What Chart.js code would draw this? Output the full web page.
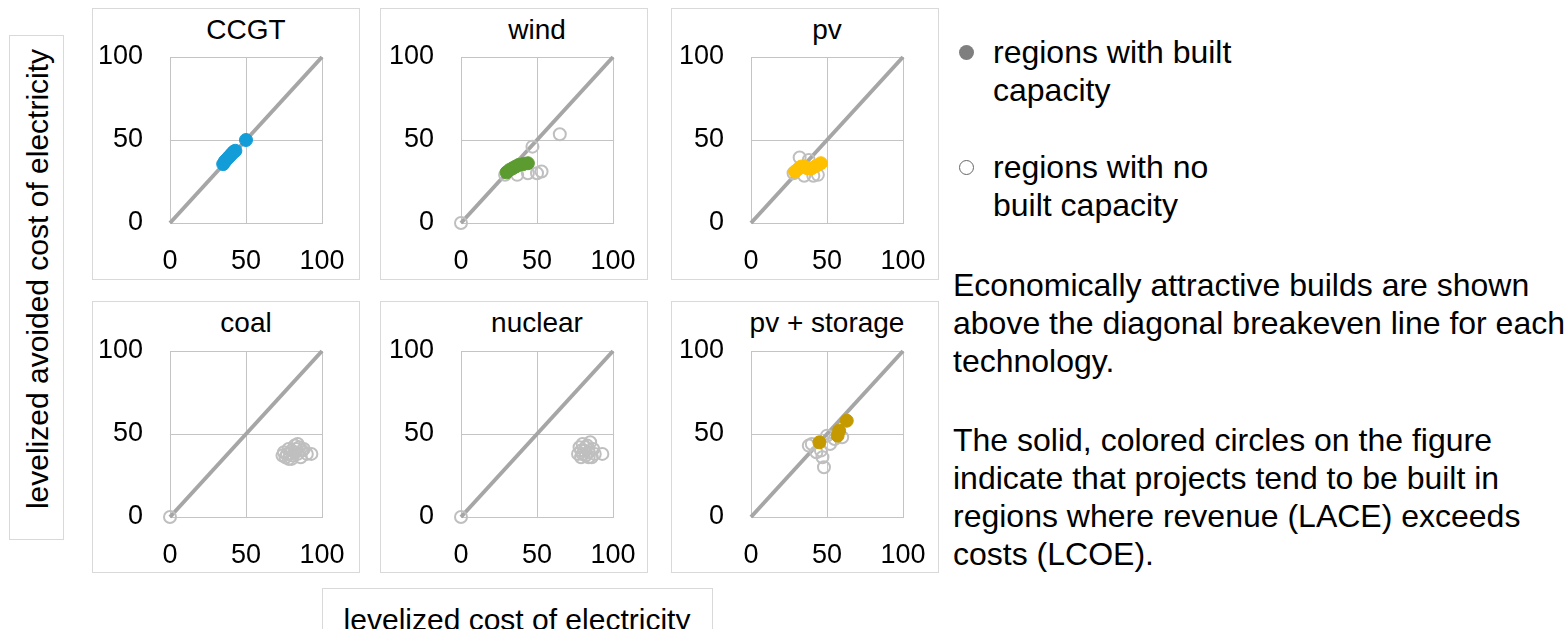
<!DOCTYPE html>
<html>
<head>
<meta charset="utf-8">
<script src="https://cdn.jsdelivr.net/npm/chart.js@4.4.1/dist/chart.umd.min.js"></script>
<style>
  body { margin: 0; width: 1564px; height: 629px; overflow: hidden; background: #fff; position: relative;
         font-family: "Liberation Sans", Arial, sans-serif; color: #000; }
  .box { position: absolute; border: 1px solid #d9d9d9; box-sizing: border-box; }
  canvas { position: absolute; }
  .txt { position: absolute; font-size: 32px; line-height: 38px; white-space: nowrap; }
  .axt { position: absolute; font-size: 30px; line-height: 34px; white-space: nowrap; }
  .tit { position: absolute; font-size: 28px; line-height: 32px; white-space: nowrap; transform: translateX(-50%); }
  .dot { position: absolute; width: 15px; height: 15px; border-radius: 50%; box-sizing: border-box; }
</style>
</head>
<body>

<div class="box" style="left:9px; top:35px; width:55px; height:505px;"></div>
<div class="axt" style="left:38px; top:279px; transform: translate(-50%, -50%) rotate(-90deg);">levelized avoided cost of electricity</div>

<div class="box" style="left:322px; top:588px; width:391px; height:60px;"></div>
<div class="axt" style="left:517px; top:603px; transform: translateX(-50%);">levelized cost of electricity</div>

<div class="dot" style="left:959px; top:45px; background:#7f7f7f;"></div>
<div class="txt" style="left:993px; top:33px;">regions with built<br>capacity</div>
<div class="dot" style="left:959px; top:160px; border:1.5px solid #666;"></div>
<div class="txt" style="left:993px; top:148px;">regions with no<br>built capacity</div>

<div class="txt" style="left:953px; top:266px;">Economically attractive builds are shown<br>above the diagonal breakeven line for each<br>technology.</div>
<div class="txt" style="left:953px; top:421px;">The solid, colored circles on the figure<br>indicate that projects tend to be built in<br>regions where revenue (LACE) exceeds<br>costs (LCOE).</div>

<script>
// valores: x = LCOE, y = LACE
const tickValues = [0, 50, 100];
const techTitles = ["CCGT", "wind", "pv", "coal", "nuclear", "pv + storage"];
const builtColors = ["#139dd8", "#5b9b30", "#ffc000", "#bf9000", "#bf9000", "#c49a00"];

const ccgtBuiltX = [35, 36, 37, 38, 39, 40, 41, 42, 43, 50];
const ccgtBuiltY = [35.5, 37, 38, 39, 40, 41, 42, 43, 43.5, 50];
const ccgtNoneX = [];
const ccgtNoneY = [];

const windBuiltX = [30, 32, 34, 36, 38, 41, 44];
const windBuiltY = [30.5, 32, 33, 34, 35, 35.5, 36];
const windNoneX = [0, 29, 37, 44, 50, 53, 47, 65];
const windNoneY = [0, 29, 29, 30, 30, 31, 46, 53.5];

const pvBuiltX = [29, 31, 33, 35, 37, 40, 43, 46];
const pvBuiltY = [31, 32.5, 34, 34, 33, 33, 34.5, 36];
const pvNoneX = [28, 32, 35, 38, 41, 44];
const pvNoneY = [30, 39.5, 28.5, 38, 28.5, 29];

const coalBuiltX = [];
const coalBuiltY = [];
const coalNoneX = [0, 74, 75, 76, 77, 78, 78, 79, 80, 80, 81, 82, 82, 83, 84, 84, 85, 86, 87, 88, 90, 93];
const coalNoneY = [0, 37, 39, 36, 38, 41, 35, 38, 35, 40, 37, 43, 39, 41, 38, 44, 42, 36, 40, 41, 38, 38];

const nuclearBuiltX = [];
const nuclearBuiltY = [];
const nuclearNoneX = [0, 77, 78, 79, 79, 80, 80, 81, 82, 82, 83, 84, 84, 85, 86, 87, 88, 93];
const nuclearNoneY = [0, 38, 42, 36, 40, 44, 38, 40, 37, 42, 43, 39, 36, 45, 36, 41, 38, 38];

const storageBuiltX = [45, 57, 58, 63];
const storageBuiltY = [45, 49, 52, 58];
const storageNoneX = [38, 40, 43, 46, 47, 48, 50, 52, 55, 60];
const storageNoneY = [43, 44, 39, 40, 36, 30, 49, 44, 47, 48];

const paneles = [
  { built: [ccgtBuiltX, ccgtBuiltY], none: [ccgtNoneX, ccgtNoneY] },
  { built: [windBuiltX, windBuiltY], none: [windNoneX, windNoneY] },
  { built: [pvBuiltX, pvBuiltY], none: [pvNoneX, pvNoneY] },
  { built: [coalBuiltX, coalBuiltY], none: [coalNoneX, coalNoneY] },
  { built: [nuclearBuiltX, nuclearBuiltY], none: [nuclearNoneX, nuclearNoneY] },
  { built: [storageBuiltX, storageBuiltY], none: [storageNoneX, storageNoneY] },
];

const colLeft = [92, 380, 671];
const rowTop = [8, 301];
const anchoPanel = 268;
const altoPanel = 272;
const plotLeft = [78, 81, 80];
const plotTop = [49, 50];
const plotW = 152;
const plotH = 166;

const toPoints = (xs, ys) => xs.map((x, i) => ({ x: x, y: ys[i] }));

const fuente = '"Liberation Sans", Arial, sans-serif';

paneles.forEach((p, i) => {
  const col = i % 3;
  const row = Math.floor(i / 3);

  const box = document.createElement("div");
  box.className = "box";
  box.style.left = colLeft[col] + "px";
  box.style.top = rowTop[row] + "px";
  box.style.width = anchoPanel + "px";
  box.style.height = altoPanel + "px";
  document.body.appendChild(box);

  const titulo = document.createElement("div");
  titulo.className = "tit";
  titulo.textContent = techTitles[i];
  titulo.style.left = (colLeft[col] + plotLeft[col] + plotW / 2) + "px";
  titulo.style.top = (rowTop[row] + 6) + "px";
  document.body.appendChild(titulo);

  const canvas = document.createElement("canvas");
  canvas.width = anchoPanel;
  canvas.height = altoPanel;
  canvas.style.left = colLeft[col] + "px";
  canvas.style.top = rowTop[row] + "px";
  document.body.appendChild(canvas);

  const lo = tickValues[0];
  const hi = tickValues[tickValues.length - 1];

  const ejeComun = {
    type: "linear",
    min: lo,
    max: hi,
    afterBuildTicks: (s) => { s.ticks = tickValues.map((v) => ({ value: v })); },
    grid: { color: "#c4c4c4", lineWidth: 1, drawTicks: false },
    border: { color: "#c4c4c4", width: 1 },
  };

  new Chart(canvas, {
    type: "scatter",
    data: {
      datasets: [
        {
          data: [{ x: lo, y: lo }, { x: hi, y: hi }],
          showLine: true,
          borderColor: "#a6a6a6",
          borderWidth: 4,
          pointRadius: 0,
          order: 3,
          clip: false,
        },
        {
          data: toPoints(p.none[0], p.none[1]),
          pointRadius: 6,
          borderWidth: 2,
          borderColor: "#bfbfbf",
          backgroundColor: "rgba(255,255,255,0)",
          order: 2,
          clip: false,
        },
        {
          data: toPoints(p.built[0], p.built[1]),
          pointRadius: 6.5,
          borderWidth: 1,
          borderColor: builtColors[i],
          backgroundColor: builtColors[i],
          order: 1,
          clip: false,
        },
      ],
    },
    options: {
      responsive: false,
      animation: false,
      layout: { padding: { left: 0, top: plotTop[row], bottom: 0, right: anchoPanel - plotLeft[col] - plotW } },
      plugins: {
        legend: { display: false },
        tooltip: { enabled: false },
        title: { display: false },
      },
      scales: {
        x: {
          ...ejeComun,
          position: "bottom",
          ticks: { color: "#000", padding: 22, maxRotation: 0, font: { family: fuente, size: 27 } },
          afterFit: (s) => {
            s.height = altoPanel - plotTop[row] - plotH;
            s.paddingLeft = 0;
            s.paddingRight = 0;
          },
        },
        y: {
          ...ejeComun,
          position: "left",
          ticks: { color: "#000", padding: 27, font: { family: fuente, size: 27 } },
          afterFit: (s) => {
            s.width = plotLeft[col];
            s.paddingTop = 0;
            s.paddingBottom = 0;
          },
        },
      },
    },
  });
});
</script>
</body>
</html>
